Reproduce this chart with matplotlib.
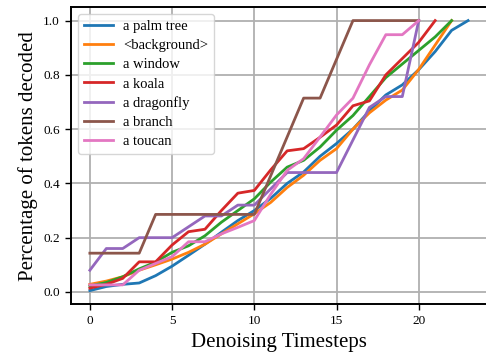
import matplotlib
matplotlib.use("Agg")
from matplotlib import pyplot as plt
import numpy as np

plt.rcParams['font.family'] = ['Liberation Serif', 'DejaVu Serif']

# Fraction of tokens decoded at each denoising step, one list per prompt token
palm_tree = [0.005, 0.02, 0.028, 0.033, 0.06, 0.095, 0.135, 0.176, 0.22, 0.263, 0.3,
             0.345, 0.4, 0.442, 0.5, 0.547, 0.6, 0.667, 0.726, 0.763, 0.819, 0.886, 0.964, 1.0]
background = [0.028, 0.04, 0.056, 0.08, 0.1, 0.121, 0.146, 0.176, 0.214, 0.251, 0.288,
              0.33, 0.385, 0.43, 0.485, 0.528, 0.6, 0.66, 0.707, 0.744, 0.82, 0.91, 1.0]
window = [0.022, 0.035, 0.056, 0.085, 0.11, 0.146, 0.17, 0.207, 0.257, 0.3, 0.343,
          0.405, 0.46, 0.485, 0.534, 0.596, 0.65, 0.72, 0.79, 0.84, 0.89, 0.94, 1.0]
koala = [0.014, 0.028, 0.05, 0.111, 0.111, 0.173, 0.222, 0.231, 0.30, 0.364, 0.374,
         0.45, 0.52, 0.528, 0.57, 0.615, 0.686, 0.704, 0.8, 0.86, 0.92, 1.0]
dragonfly = [0.08, 0.16, 0.16, 0.2, 0.2, 0.2, 0.24, 0.28, 0.28, 0.32, 0.32,
             0.38, 0.44, 0.44, 0.44, 0.44, 0.56, 0.68, 0.72, 0.72, 1.0]
branch = [1/7, 1/7, 1/7, 1/7, 2/7, 2/7, 2/7, 2/7, 2/7, 2/7, 2/7,
          3/7, 4/7, 5/7, 5/7, 6/7, 1.0, 1.0, 1.0, 1.0, 1.0]
toucan = [0.026, 0.026, 0.026, 0.08, 0.105, 0.13, 0.185, 0.185, 0.214, 0.238, 0.263,
          0.36, 0.448, 0.491, 0.571, 0.652, 0.714, 0.837, 0.948, 0.948, 1.0]

series = [
    ("a palm tree", palm_tree),
    ("<background>", background),
    ("a window", window),
    ("a koala", koala),
    ("a dragonfly", dragonfly),
    ("a branch", branch),
    ("a toucan", toucan),
]

fig = plt.figure(figsize=(4.86, 3.54), dpi=100)
ax = fig.add_axes([0.146, 0.141, 0.856, 0.839])

for name, vals in series:
    ax.plot(np.arange(len(vals)), vals, linewidth=2, label=name)

ax.grid(True, color="#b0b0b0", linewidth=1.3)
ax.set_axisbelow(True)
ax.set_xticks([0, 5, 10, 15, 20])
ax.set_yticks([0.0, 0.2, 0.4, 0.6, 0.8, 1.0])
ax.tick_params(labelsize=9.5, length=4.5, width=1)
for sp in ax.spines.values():
    sp.set_linewidth(1.4)

ax.set_xlabel("Denoising Timesteps", fontsize=15)
ax.set_ylabel("Percentage of tokens decoded", fontsize=15)
ax.legend(loc="upper left", fontsize=10.5, handlelength=2.0,
          handletextpad=0.7, labelspacing=0.4)

fig.savefig("out.png", dpi=100)
